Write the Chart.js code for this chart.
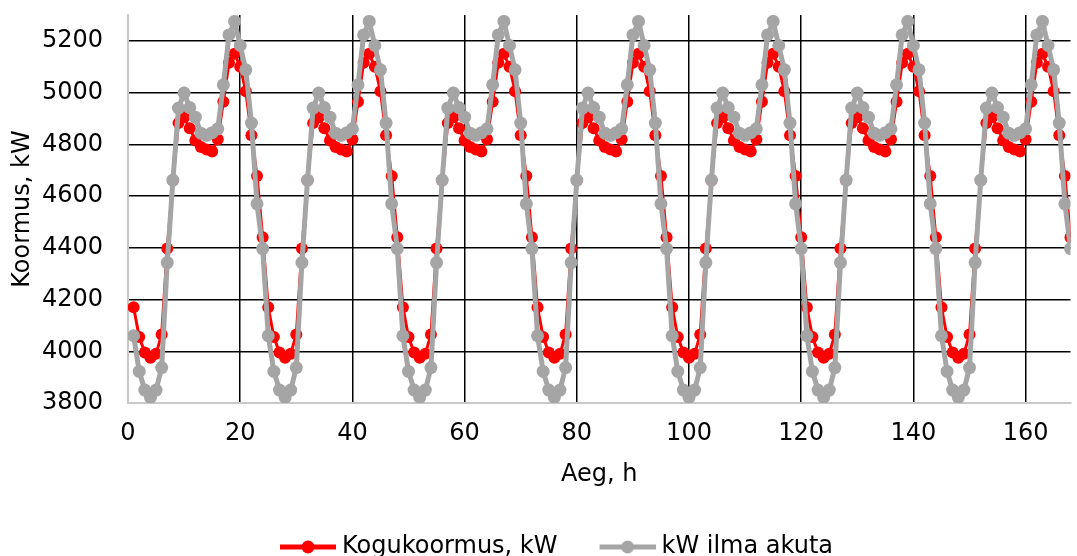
<!DOCTYPE html>
<html>
<head>
<meta charset="utf-8">
<script src="https://cdn.jsdelivr.net/npm/chart.js@4.4.1/dist/chart.umd.min.js"></script>
<style>
  html, body { margin: 0; padding: 0; background: #fff; }
  .chart-container { width: 1077px; height: 556px; }
</style>
</head>
<body>
<div class="chart-container"><canvas id="myChart"></canvas></div>
<script>
// hours of the week (1..168)
const hours = Array.from({ length: 168 }, (_, i) => i + 1);

// Kogukoormus, kW - one row per day
const kogukoormus = [
  4170, 4055, 3995, 3975, 3990, 4065, 4397, 4660, 4882, 4905, 4862, 4815, 4790, 4780, 4772, 4820, 4965, 5115, 5150, 5100, 5005, 4835, 4678, 4441,
  4170, 4055, 3995, 3975, 3990, 4065, 4397, 4660, 4882, 4905, 4862, 4815, 4790, 4780, 4772, 4820, 4965, 5115, 5150, 5100, 5005, 4835, 4678, 4441,
  4170, 4055, 3995, 3975, 3990, 4065, 4397, 4660, 4882, 4905, 4862, 4815, 4790, 4780, 4772, 4820, 4965, 5115, 5150, 5100, 5005, 4835, 4678, 4441,
  4170, 4055, 3995, 3975, 3990, 4065, 4397, 4660, 4882, 4905, 4862, 4815, 4790, 4780, 4772, 4820, 4965, 5115, 5150, 5100, 5005, 4835, 4678, 4441,
  4170, 4055, 3995, 3975, 3990, 4065, 4397, 4660, 4882, 4905, 4862, 4815, 4790, 4780, 4772, 4820, 4965, 5115, 5150, 5100, 5005, 4835, 4678, 4441,
  4170, 4055, 3995, 3975, 3990, 4065, 4397, 4660, 4882, 4905, 4862, 4815, 4790, 4780, 4772, 4820, 4965, 5115, 5150, 5100, 5005, 4835, 4678, 4441,
  4170, 4055, 3995, 3975, 3990, 4065, 4397, 4660, 4882, 4905, 4862, 4815, 4790, 4780, 4772, 4820, 4965, 5115, 5150, 5100, 5005, 4835, 4678, 4441,
];

// kW ilma akuta - one row per day
const ilmaAkuta = [
  4060, 3922, 3850, 3822, 3850, 3937, 4343, 4662, 4940, 4998, 4942, 4905, 4843, 4835, 4845, 4860, 5030, 5223, 5275, 5182, 5088, 4882, 4570, 4397,
  4060, 3922, 3850, 3822, 3850, 3937, 4343, 4662, 4940, 4998, 4942, 4905, 4843, 4835, 4845, 4860, 5030, 5223, 5275, 5182, 5088, 4882, 4570, 4397,
  4060, 3922, 3850, 3822, 3850, 3937, 4343, 4662, 4940, 4998, 4942, 4905, 4843, 4835, 4845, 4860, 5030, 5223, 5275, 5182, 5088, 4882, 4570, 4397,
  4060, 3922, 3850, 3822, 3850, 3937, 4343, 4662, 4940, 4998, 4942, 4905, 4843, 4835, 4845, 4860, 5030, 5223, 5275, 5182, 5088, 4882, 4570, 4397,
  4060, 3922, 3850, 3822, 3850, 3937, 4343, 4662, 4940, 4998, 4942, 4905, 4843, 4835, 4845, 4860, 5030, 5223, 5275, 5182, 5088, 4882, 4570, 4397,
  4060, 3922, 3850, 3822, 3850, 3937, 4343, 4662, 4940, 4998, 4942, 4905, 4843, 4835, 4845, 4860, 5030, 5223, 5275, 5182, 5088, 4882, 4570, 4397,
  4060, 3922, 3850, 3822, 3850, 3937, 4343, 4662, 4940, 4998, 4942, 4905, 4843, 4835, 4845, 4860, 5030, 5223, 5275, 5182, 5088, 4882, 4570, 4397,
];

const seriesNames = ["Kogukoormus, kW", "kW ilma akuta"];

// tick labels
const xTicks = [0, 20, 40, 60, 80, 100, 120, 140, 160];
const yTicks = [3800, 4000, 4200, 4400, 4600, 4800, 5000, 5200];

const RED = "#ff0000";
const GRAY = "#a5a5a5";
const FONT_SIZE = 24;

Chart.defaults.font.family = "'DejaVu Sans', Verdana, sans-serif";
Chart.defaults.color = "#000";

// legend icon: short line with a dot in the middle
const makeIcon = (color, lineW) => {
  const c = document.createElement("canvas");
  c.width = 100;
  c.height = 16;
  const g = c.getContext("2d");
  g.strokeStyle = color;
  g.lineWidth = lineW;
  g.beginPath();
  g.moveTo(44, 8);
  g.lineTo(100, 8);
  g.stroke();
  g.fillStyle = color;
  g.beginPath();
  g.arc(72, 8, 6.5, 0, Math.PI * 2);
  g.fill();
  return c;
};

const gridColor = (hidden) => (ctx) =>
  ctx.tick && ctx.tick.value === hidden ? "rgba(0,0,0,0)" : "#000";

const shiftLegend = {
  id: "shiftLegend",
  afterLayout(chart) {
    const dx = -5;
    const dy = 13;
    chart.legend.left += dx;
    chart.legend.right += dx;
    chart.legend.top += dy;
    chart.legend.bottom += dy;
  },
};

const config = {
  type: "line",
  data: {
    datasets: [
      {
        label: seriesNames[0],
        data: hours.map((h, i) => ({ x: h, y: kogukoormus[i] })),
        borderColor: RED,
        backgroundColor: RED,
        borderWidth: 3,
        pointRadius: 6,
        pointBorderWidth: 0,
        pointBackgroundColor: RED,
        tension: 0,
        order: 2,
      },
      {
        label: seriesNames[1],
        data: hours.map((h, i) => ({ x: h, y: ilmaAkuta[i] })),
        borderColor: GRAY,
        backgroundColor: GRAY,
        borderWidth: 5,
        pointRadius: 6.5,
        pointBorderWidth: 0,
        pointBackgroundColor: GRAY,
        tension: 0,
        order: 1,
      },
    ],
  },
  options: {
    responsive: true,
    maintainAspectRatio: false,
    animation: false,
    layout: { padding: { left: 8, right: 0, top: 15, bottom: 0 } },
    plugins: {
      tooltip: { enabled: false },
      legend: {
        position: "bottom",
        labels: {
          font: { size: FONT_SIZE },
          color: "#000",
          usePointStyle: true,
          pointStyleWidth: 88,
          boxHeight: 16,
          padding: 4,
          generateLabels: () =>
            seriesNames.map((name, i) => ({
              text: name,
              pointStyle: makeIcon(i === 0 ? RED : GRAY, 5),
              fillStyle: i === 0 ? RED : GRAY,
              strokeStyle: i === 0 ? RED : GRAY,
              lineWidth: 0,
              fontColor: "#000",
              hidden: false,
              datasetIndex: i,
            })),
        },
      },
    },
    scales: {
      x: {
        type: "linear",
        min: 0,
        max: 168,
        afterBuildTicks: (s) => {
          s.ticks = xTicks.map((v) => ({ value: v }));
        },
        afterFit: (s) => {
          s.height = 115;
          s.paddingLeft = 0;
          s.paddingRight = 0;
        },
        ticks: {
          font: { size: FONT_SIZE },
          color: "#000",
          padding: 16,
          maxRotation: 0,
          autoSkip: false,
          callback: (v) => String(v),
        },
        grid: { color: gridColor(0), lineWidth: 1.5, drawTicks: false },
        border: { color: "#c8c8c8", width: 2 },
        title: {
          display: true,
          text: "Aeg, h",
          font: { size: FONT_SIZE },
          color: "#000",
          padding: { top: 0, bottom: 29 },
        },
      },
      y: {
        min: 3800,
        max: 5300,
        afterBuildTicks: (s) => {
          s.ticks = yTicks.map((v) => ({ value: v }));
        },
        afterFit: (s) => {
          s.width = 120;
          s.paddingTop = 0;
          s.paddingBottom = 0;
        },
        ticks: {
          font: { size: FONT_SIZE },
          color: "#000",
          padding: 25,
          autoSkip: false,
          callback: (v) => String(v),
        },
        grid: { color: gridColor(3800), lineWidth: 1.5, drawTicks: false },
        border: { color: "#c8c8c8", width: 2 },
        title: {
          display: true,
          text: "Koormus, kW",
          font: { size: FONT_SIZE },
          color: "#000",
          padding: { top: 0, bottom: 0 },
        },
      },
    },
  },
  plugins: [shiftLegend],
};

const myChart = new Chart(document.getElementById("myChart"), config);
</script>
</body>
</html>
